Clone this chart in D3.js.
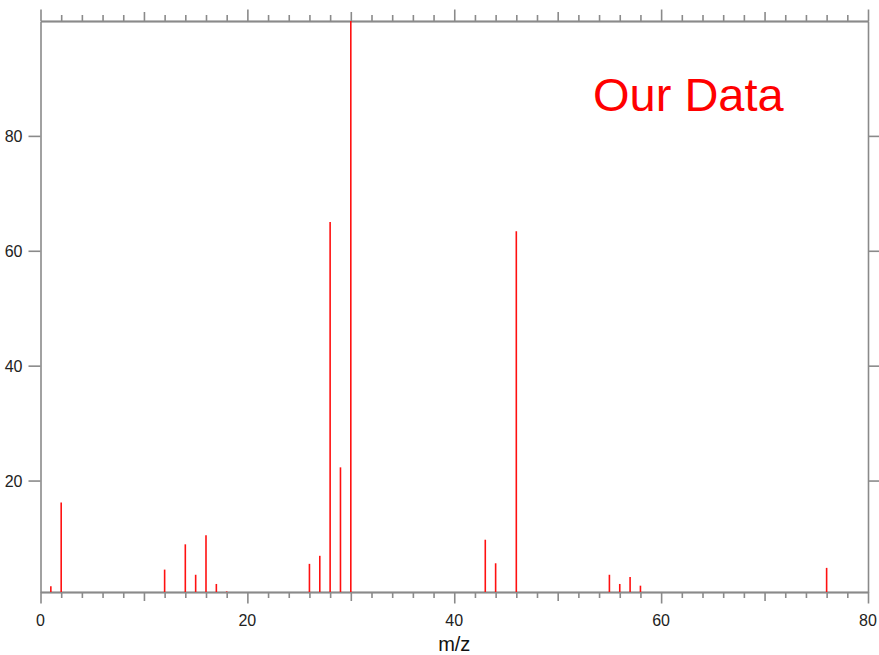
<!DOCTYPE html>
<html lang="en">
	<head>
		<meta charset="UTF-8" />
		<title>Our Data - mass spectrum</title>
		<script src="https://d3js.org/d3.v7.min.js"></script>
		<style>
			html,
			body {
				margin: 0;
				background: white;
			}
			svg {
				display: block;
				font-family: 'Liberation Sans', Arial, sans-serif;
			}
			.frame path,
			.frame line {
				stroke: #8a8a8a;
				stroke-width: 1.6px;
			}
			.tick-labels text {
				fill: #222;
				font-size: 16px;
			}
			.peak {
				stroke: #ff1010;
				stroke-width: 1.6px;
			}
		</style>
	</head>
	<body>
		<svg id="chart" width="879" height="655"></svg>
		<script type="module">
			// peaks
			const mz = [1, 2, 12, 14, 15, 16, 17, 18, 26, 27, 28, 29, 30, 43, 44, 46, 55, 56, 57, 58, 76];
			const intensity = [1.6, 16.2, 4.5, 8.9, 3.6, 10.5, 2.0, 0.7, 5.5, 6.9, 65.0, 22.3, 100, 9.7, 5.6, 63.4, 3.6, 2.0, 3.2, 1.7, 4.8];

			const xMajor = [0, 20, 40, 60, 80];
			const xMedium = [10, 30, 50, 70];
			const xMinor = d3.range(0, 81, 2).filter((v) => v % 10 !== 0);
			const yMajor = [20, 40, 60, 80];

			const svg = d3.select('#chart');
			const margin = { top: 21, right: 11, bottom: 63, left: 40.5 };
			const width = +svg.attr('width');
			const height = +svg.attr('height');
			const left = margin.left;
			const right = width - margin.right;
			const top = margin.top;
			const bottom = height - margin.bottom;

			const x = d3.scaleLinear().domain([0, 80]).range([left, right]);
			const y = d3.scaleLinear().domain([0.6, 100]).range([bottom, top]);

			const frame = svg.append('g').attr('class', 'frame');

			// bottom and top axes, three tick lengths each
			const addX = (ticks, size) => {
				frame
					.append('g')
					.attr('transform', `translate(0,${bottom})`)
					.call(d3.axisBottom(x).tickValues(ticks).tickSize(size).tickSizeOuter(0).tickFormat(''));
				frame
					.append('g')
					.attr('transform', `translate(0,${top})`)
					.call(d3.axisTop(x).tickValues(ticks).tickSize(size).tickSizeOuter(0).tickFormat(''));
			};
			addX(xMinor, 6);
			addX(xMedium, 9);
			addX(xMajor, 11.5);

			frame
				.append('g')
				.attr('transform', `translate(${left},0)`)
				.call(d3.axisLeft(y).tickValues(yMajor).tickSize(12).tickSizeOuter(0).tickFormat(''));
			frame
				.append('g')
				.attr('transform', `translate(${right},0)`)
				.call(d3.axisRight(y).tickValues(yMajor).tickSize(11).tickSizeOuter(0).tickFormat(''));

			frame.selectAll('.domain').attr('fill', 'none');

			// tick labels
			const labels = svg.append('g').attr('class', 'tick-labels');
			labels
				.selectAll('text.xl')
				.data(xMajor)
				.enter()
				.append('text')
				.attr('class', 'xl')
				.attr('x', (d) => x(d))
				.attr('y', bottom + 34)
				.attr('text-anchor', 'middle')
				.text((d) => d);
			labels
				.selectAll('text.yl')
				.data(yMajor)
				.enter()
				.append('text')
				.attr('class', 'yl')
				.attr('x', left - 18)
				.attr('y', (d) => y(d) + 6)
				.attr('text-anchor', 'end')
				.text((d) => d);

			svg
				.append('text')
				.attr('x', (left + right) / 2)
				.attr('y', bottom + 59)
				.attr('text-anchor', 'middle')
				.attr('font-size', 20)
				.attr('fill', '#111')
				.text('m/z');

			// sticks
			svg
				.selectAll('line.peak')
				.data(mz)
				.enter()
				.append('line')
				.attr('class', 'peak')
				.attr('x1', (d) => x(d))
				.attr('x2', (d) => x(d))
				.attr('y1', y(y.domain()[0]))
				.attr('y2', (d, i) => y(intensity[i]));

			svg
				.append('text')
				.attr('x', 593)
				.attr('y', 111)
				.attr('font-size', 47)
				.attr('fill', '#ff0000')
				.text('Our Data');
		</script>
	</body>
</html>
